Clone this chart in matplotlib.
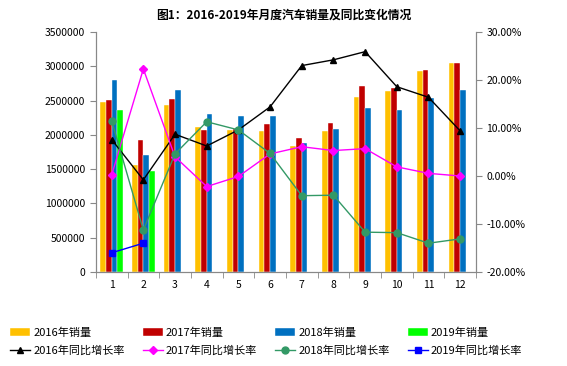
import numpy as np
import matplotlib
matplotlib.use('Agg')
import matplotlib.pyplot as plt
from matplotlib.ticker import FuncFormatter, MultipleLocator, FixedLocator

plt.rcParams['font.family'] = ['Noto Sans CJK SC', 'DejaVu Sans']

months = ['1', '2', '3', '4', '5', '6', '7', '8', '9', '10', '11', '12']

sales_2016 = [2480000, 1560000, 2430000, 2120000, 2070000, 2060000, 1840000, 2060000, 2550000, 2640000, 2930000, 3050000]
sales_2017 = [2510000, 1925000, 2530000, 2070000, 2080000, 2160000, 1960000, 2170000, 2710000, 2690000, 2950000, 3050000]
sales_2018 = [2800000, 1700000, 2650000, 2300000, 2280000, 2270000, 1880000, 2090000, 2390000, 2360000, 2540000, 2650000]
sales_2019 = [2360000, 1470000]

growth_2016 = [7.6, -0.8, 8.7, 6.25, 9.6, 14.4, 23.0, 24.2, 25.9, 18.6, 16.4, 9.4]
growth_2017 = [0.2, 22.3, 4.0, -2.2, -0.1, 4.6, 6.1, 5.3, 5.7, 1.9, 0.55, 0.0]
growth_2018 = [11.5, -11.25, 4.6, 11.3, 9.6, 4.7, -4.1, -4.0, -11.7, -11.8, -14.0, -13.1]
growth_2019 = [-16.0, -14.0]

fig = plt.figure(figsize=(5.67, 3.66), dpi=100)
ax = fig.add_axes([0.169, 0.2568, 0.6705, 0.6558])
ax2 = ax.twinx()

x = np.arange(1, 13)
w = 0.18
bar_cols = ['#FFC000', '#C00000', '#0070C0', '#00FF00']
bars = []
for i, (vals, c, lab) in enumerate(zip([sales_2016, sales_2017, sales_2018, sales_2019], bar_cols,
                                       ['2016年销量', '2017年销量', '2018年销量', '2019年销量'])):
    xs = x[:len(vals)] + (i - 1.5) * w
    b = ax.bar(xs, vals, width=w, color=c, edgecolor='white', linewidth=0.3, label=lab)
    bars.append(b)

lines = []
specs = [(growth_2016, 'black', '^', 5, '2016年同比增长率'),
         (growth_2017, '#FF00FF', 'D', 4, '2017年同比增长率'),
         (growth_2018, '#339966', 'o', 5, '2018年同比增长率'),
         (growth_2019, '#0000FF', 's', 4, '2019年同比增长率')]
for vals, c, m, ms, lab in specs:
    l, = ax2.plot(x[:len(vals)], np.array(vals) / 100, color=c, marker=m, markersize=ms,
                  linewidth=1, label=lab)
    lines.append(l)

ax.set_xlim(0.5, 12.5)
ax.set_ylim(0, 3500000)
ax.yaxis.set_major_locator(MultipleLocator(500000))
ax.yaxis.set_major_formatter(FuncFormatter(lambda v, p: '%d' % v))
ax2.set_ylim(-0.2, 0.3)
ax2.yaxis.set_major_locator(MultipleLocator(0.1))
ax2.yaxis.set_major_formatter(FuncFormatter(lambda v, p: '%.2f%%' % (v * 100)))

ax.set_xticks(x)
ax.set_xticklabels(months)
ax.tick_params(axis='x', length=0, labelsize=7.5, pad=6)
ax.xaxis.set_minor_locator(FixedLocator(np.arange(0.5, 13, 1)))
ax.tick_params(axis='x', which='minor', length=4, color='#888888')
ax.tick_params(axis='y', length=4, color='#888888', labelsize=7.5)
ax2.tick_params(axis='y', length=4, color='#888888', labelsize=7.5)

for a in (ax, ax2):
    a.spines['top'].set_visible(False)
    for s in ('left', 'right', 'bottom'):
        a.spines[s].set_color('#888888')

fig.text(0.5, 0.958, '图1：2016-2019年月度汽车销量及同比变化情况', ha='center', va='center',
         fontsize=8.5, fontweight='bold')

handles = []
for b, l in zip(bars, lines):
    handles += [b, l]
fig.legend(handles=handles, labels=[h.get_label() for h in handles], ncol=4, frameon=False,
           loc='lower left', bbox_to_anchor=(0.0, 0.0), fontsize=8, handlelength=1.8,
           handletextpad=0.3, columnspacing=1.6, labelspacing=0.7, borderaxespad=0.5)

fig.savefig('out.png', dpi=100)
